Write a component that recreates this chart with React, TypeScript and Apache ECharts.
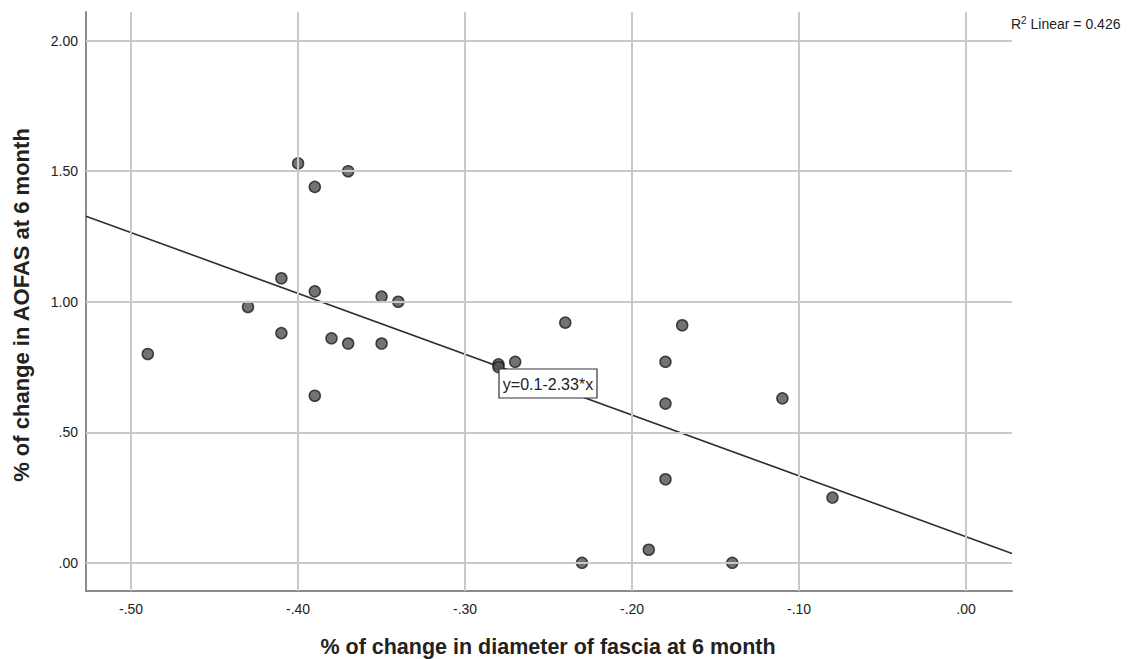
import React, { useEffect, useRef } from "react";
import * as echarts from "echarts";

const xValues = [-0.49, -0.43, -0.41, -0.41, -0.40, -0.39, -0.39, -0.39, -0.38, -0.37, -0.37, -0.35, -0.35, -0.34, -0.28, -0.28, -0.27, -0.24, -0.19, -0.18, -0.18, -0.18, -0.17, -0.23, -0.14, -0.11, -0.08];
const yValues = [0.80, 0.98, 1.09, 0.88, 1.53, 1.44, 1.04, 0.64, 0.86, 1.50, 0.84, 1.02, 0.84, 1.00, 0.76, 0.75, 0.77, 0.92, 0.05, 0.77, 0.61, 0.32, 0.91, 0.00, 0.00, 0.63, 0.25];
const xTicks = [-0.5, -0.4, -0.3, -0.2, -0.1, 0];
const yTicks = [0, 0.5, 1.0, 1.5, 2.0];
const intercept = 0.1;
const slope = -2.33;
const rSquared = 0.426;
const xRange = [-0.527, 0.0275];
const yRange = [-0.108, 2.11];
const xTitle = "% of change in diameter of fascia at 6 month";
const yTitle = "% of change in AOFAS at 6 month";
const equationLabel = "y=0.1-2.33*x";

const fmt = (v: number) => {
  const s = Math.abs(v).toFixed(2).replace(/^0/, "");
  return (v < -1e-9 ? "-" : "") + s;
};

export default function App() {
  const ref = useRef<HTMLDivElement>(null);
  useEffect(() => {
    if (!ref.current) return;
    const chart = echarts.init(ref.current, null, { renderer: "svg" });
    const font = "'Liberation Sans', Arial, sans-serif";
    const points = xValues.map((x, i) => [x, yValues[i]]);
    const linePts = xRange.map((x) => [x, intercept + slope * x]);
    chart.setOption({
      animation: false,
      backgroundColor: "#ffffff",
      grid: { left: 86, top: 12, right: 117, bottom: 68 },
      xAxis: {
        type: "value",
        min: xRange[0],
        max: xRange[1],
        axisLine: { show: true, onZero: false, lineStyle: { color: "#8a8a8a", width: 2 } },
        axisTick: { show: false, customValues: xTicks },
        splitLine: { show: false },
        axisLabel: {
          customValues: xTicks,
          formatter: fmt,
          color: "#222",
          fontSize: 14,
          fontFamily: font,
          margin: 11,
        },
      },
      yAxis: {
        type: "value",
        min: yRange[0],
        max: yRange[1],
        axisLine: { show: true, onZero: false, lineStyle: { color: "#8a8a8a", width: 2 } },
        axisTick: { show: false, customValues: yTicks },
        splitLine: { show: false },
        axisLabel: {
          customValues: yTicks,
          formatter: fmt,
          color: "#222",
          fontSize: 14,
          fontFamily: font,
          margin: 8,
        },
      },
      series: [
        {
          type: "line",
          data: linePts,
          symbol: "none",
          lineStyle: { opacity: 0 },
          z: 0,
          silent: true,
          markLine: {
            silent: true,
            symbol: "none",
            animation: false,
            label: { show: false },
            lineStyle: { color: "#c9c9c9", width: 2, type: "solid" },
            data: [
              ...xTicks.map((v) => ({ xAxis: v })),
              ...yTicks.map((v) => ({ yAxis: v })),
            ],
          },
        },
        {
          type: "line",
          data: linePts,
          symbol: "none",
          lineStyle: { color: "#2e2e2e", width: 1.6 },
          z: 2,
          silent: true,
        },
        {
          type: "scatter",
          data: points,
          symbolSize: 11,
          itemStyle: { color: "#505050", borderColor: "#1e1e1e", borderWidth: 1.5 },
          z: 3,
        },
      ],
      graphic: [
        {
          type: "rect",
          shape: { x: 499, y: 369, width: 98, height: 29 },
          style: { fill: "#fff", stroke: "#333", lineWidth: 1.2 },
          z: 10,
        },
        {
          type: "text",
          x: 548,
          y: 384,
          style: {
            text: equationLabel,
            fontSize: 16,
            fontFamily: font,
            fill: "#222",
            align: "center",
            verticalAlign: "middle",
          },
          z: 11,
        },
        {
          type: "text",
          x: 1011,
          y: 24,
          style: {
            text: "R{sup|2} Linear = " + rSquared.toFixed(3),
            fontSize: 14,
            fontFamily: font,
            fill: "#222",
            verticalAlign: "middle",
            rich: {
              sup: { fontSize: 10, fontFamily: font, fill: "#222", verticalAlign: "top", padding: [0, 0, 7, 0] },
            },
          },
        },
        {
          type: "text",
          x: 548,
          y: 647,
          style: {
            text: xTitle,
            fontSize: 21.5,
            fontWeight: "bold",
            fontFamily: font,
            fill: "#222",
            align: "center",
            verticalAlign: "middle",
          },
        },
        {
          type: "text",
          x: 21,
          y: 305,
          rotation: Math.PI / 2,
          style: {
            text: yTitle,
            fontSize: 22,
            fontWeight: "bold",
            fontFamily: font,
            fill: "#222",
            align: "center",
            verticalAlign: "middle",
          },
        },
      ],
    });
    return () => chart.dispose();
  }, []);
  return (
    <div
      ref={ref}
      style={{ position: "absolute", left: 0, top: 0, width: 1129, height: 659, background: "#fff" }}
    />
  );
}
